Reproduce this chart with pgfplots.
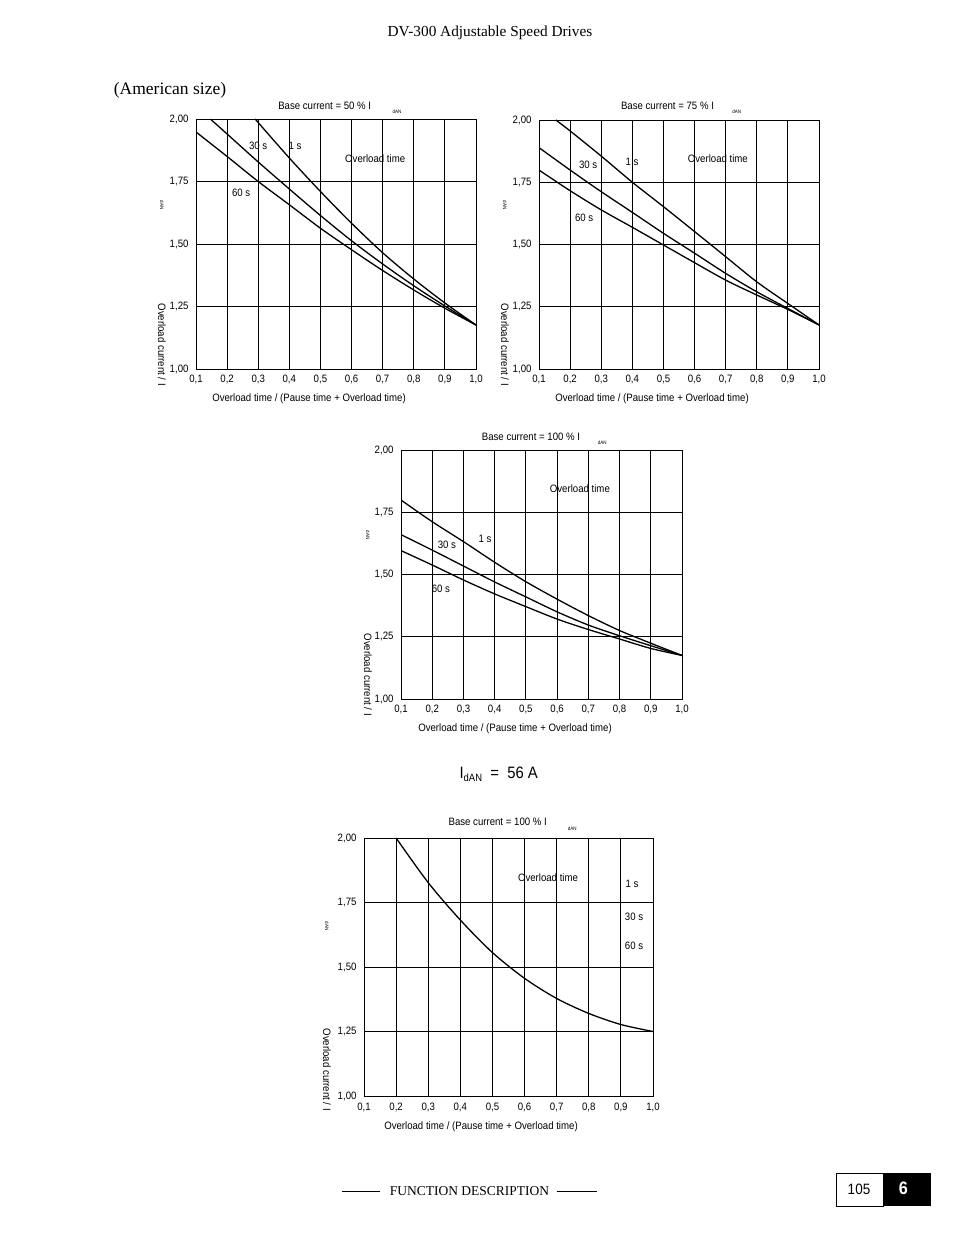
\documentclass[border=0pt]{standalone}
\usepackage{fontspec}
\setmainfont{Liberation Serif}
\newfontfamily\arial[FakeStretch=0.9]{Liberation Sans}
\usepackage{pgfplots}
\pgfplotsset{compat=1.18}
\newcommand\cf{\arial\fontsize{10.7}{12}\selectfont}
\newcommand\tf{\arial\fontsize{5}{6}\selectfont}
\pgfplotsset{
 cv/.style={black, line width=1.3pt, smooth, mark=none},
 dvchart/.style={
  scale only axis, xmin=0.1, xmax=1, ymin=1, ymax=2,
  xtick={0.1,0.2,0.3,0.4,0.5,0.6,0.7,0.8,0.9,1.0},
  xticklabels={{0,1},{0,2},{0,3},{0,4},{0,5},{0,6},{0,7},{0,8},{0,9},{1,0}},
  ytick={1,1.25,1.5,1.75,2},
  yticklabels={{1,00},{1,25},{1,50},{1,75},{2,00}},
  grid=major, major grid style={black, line width=0.8pt},
  major tick length=0pt,
  axis line style={line width=0.8pt},
  tick label style={font=\cf},
  xticklabel style={yshift=-3pt}, yticklabel style={xshift=-4pt}
 }
}
\begin{document}
\begin{tikzpicture}
\fill[white] (0,0) rectangle (954pt,1235pt);
\path[use as bounding box] (0,0) rectangle (954pt,1235pt);

% page texts
\node[font=\fontsize{15.3}{18}\selectfont] at (490pt,1202pt) {DV-300 Adjustable Speed Drives};
\node[font=\fontsize{17.5}{20}\selectfont] at (170pt,1145pt) {(American size)};

% ---- Chart 1 ----
\begin{axis}[dvchart, at={(196pt,866pt)}, anchor=south west, width=280pt, height=250pt]
\addplot[cv] coordinates {(0.1,1.948)(0.2,1.85)(0.3,1.75)(0.4,1.657)(0.5,1.563)(0.6,1.477)(0.7,1.394)(0.8,1.316)(0.9,1.243)(1.0,1.176)};
\addplot[cv] coordinates {(0.146,2.0)(0.2,1.94)(0.3,1.828)(0.4,1.72)(0.5,1.614)(0.6,1.513)(0.7,1.42)(0.8,1.333)(0.9,1.252)(1.0,1.176)};
\addplot[cv] coordinates {(0.29,2.0)(0.4,1.844)(0.5,1.71)(0.6,1.583)(0.7,1.465)(0.8,1.36)(0.9,1.264)(1.0,1.176)};
\node[font=\cf] at (axis cs:0.30,1.892) {30 s};
\node[font=\cf] at (axis cs:0.418,1.892) {1 s};
\node[font=\cf] at (axis cs:0.245,1.704) {60 s};
\node[font=\cf] at (axis cs:0.676,1.84) {Overload time};
\end{axis}
\node[font=\cf] at (324.7pt,1129pt) {Base current = 50 \% I};
\node[font=\tf] at (397pt,1123.3pt) {dAN};
\node[font=\cf, rotate=-90, anchor=west] at (162pt,935pt) {Overload current / I};
\node[font=\tf, rotate=-90] at (162pt,1030pt) {dAN};
\node[font=\cf] at (309pt,836pt) {Overload time / (Pause time + Overload time)};

% ---- Chart 2 ----
\begin{axis}[dvchart, at={(539pt,866pt)}, anchor=south west, width=280pt, height=249pt]
\addplot[cv] coordinates {(0.1,1.799)(0.2,1.716)(0.3,1.639)(0.4,1.569)(0.5,1.498)(0.6,1.427)(0.7,1.357)(0.8,1.297)(0.9,1.239)(1.0,1.177)};
\addplot[cv] coordinates {(0.1,1.889)(0.2,1.799)(0.3,1.712)(0.4,1.629)(0.5,1.545)(0.6,1.465)(0.7,1.384)(0.8,1.31)(0.9,1.243)(1.0,1.177)};
\addplot[cv] coordinates {(0.154,2.0)(0.2,1.956)(0.3,1.855)(0.4,1.75)(0.5,1.652)(0.6,1.552)(0.7,1.451)(0.8,1.35)(0.9,1.263)(1.0,1.177)};
\node[font=\cf] at (axis cs:0.258,1.819) {30 s};
\node[font=\cf] at (axis cs:0.399,1.831) {1 s};
\node[font=\cf] at (axis cs:0.245,1.606) {60 s};
\node[font=\cf] at (axis cs:0.675,1.843) {Overload time};
\end{axis}
\node[font=\cf] at (667.5pt,1129pt) {Base current = 75 \% I};
\node[font=\tf] at (736.7pt,1123.3pt) {dAN};
\node[font=\cf, rotate=-90, anchor=west] at (505pt,935pt) {Overload current / I};
\node[font=\tf, rotate=-90] at (505pt,1030pt) {dAN};
\node[font=\cf] at (652pt,836pt) {Overload time / (Pause time + Overload time)};

% ---- Chart 3 ----
\begin{axis}[dvchart, at={(401pt,536pt)}, anchor=south west, width=281pt, height=249pt]
\addplot[cv] coordinates {(0.1,1.799)(0.2,1.712)(0.3,1.632)(0.4,1.549)(0.5,1.471)(0.6,1.401)(0.7,1.335)(0.8,1.275)(0.9,1.224)(1.0,1.175)};
\addplot[cv] coordinates {(0.1,1.66)(0.2,1.598)(0.3,1.534)(0.4,1.47)(0.5,1.41)(0.6,1.35)(0.7,1.297)(0.8,1.254)(0.9,1.214)(1.0,1.175)};
\addplot[cv] coordinates {(0.1,1.596)(0.2,1.538)(0.3,1.478)(0.4,1.422)(0.5,1.371)(0.6,1.321)(0.7,1.279)(0.8,1.241)(0.9,1.203)(1.0,1.175)};
\node[font=\cf] at (axis cs:0.673,1.843) {Overload time};
\node[font=\cf] at (axis cs:0.369,1.643) {1 s};
\node[font=\cf] at (axis cs:0.247,1.618) {30 s};
\node[font=\cf] at (axis cs:0.228,1.442) {60 s};
\end{axis}
\node[font=\cf] at (531pt,798.3pt) {Base current = 100 \% I};
\node[font=\tf] at (602.3pt,792.7pt) {dAN};
\node[font=\cf, rotate=-90, anchor=west] at (368pt,605pt) {Overload current / I};
\node[font=\tf, rotate=-90] at (368pt,700pt) {dAN};
\node[font=\cf] at (515pt,506pt) {Overload time / (Pause time + Overload time)};

% I_dAN = 56 A
\node[font=\arial\fontsize{16.5}{18}\selectfont, anchor=base] at (498.7pt,456pt) {I\raisebox{-3pt}{\fontsize{10.5}{10}\selectfont dAN}\ \ =\ \ 56 A};

% ---- Chart 4 ----
\begin{axis}[dvchart, at={(364pt,139pt)}, anchor=south west, width=289pt, height=258pt]
\addplot[cv] coordinates {(0.2,2.0)(0.3,1.827)(0.4,1.682)(0.5,1.556)(0.6,1.456)(0.7,1.378)(0.8,1.32)(0.9,1.277)(1.0,1.25)};
\node[font=\cf] at (axis cs:0.673,1.845) {Overload time};
\node[font=\cf] at (axis cs:0.935,1.822) {1 s};
\node[font=\cf] at (axis cs:0.941,1.694) {30 s};
\node[font=\cf] at (axis cs:0.941,1.581) {60 s};
\end{axis}
\node[font=\cf] at (497.7pt,413.3pt) {Base current = 100 \% I};
\node[font=\tf] at (572.3pt,406.7pt) {dAN};
\node[font=\cf, rotate=-90, anchor=west] at (327pt,210pt) {Overload current / I};
\node[font=\tf, rotate=-90] at (327pt,309pt) {dAN};
\node[font=\cf] at (481pt,108pt) {Overload time / (Pause time + Overload time)};

% footer
\draw[line width=0.6pt] (341.7pt,44pt) -- (380pt,44pt);
\draw[line width=0.6pt] (556.7pt,44pt) -- (596.7pt,44pt);
\node[font=\fontsize{13.5}{16}\selectfont] at (469.5pt,44pt) {FUNCTION DESCRIPTION};
\draw[line width=0.8pt] (836pt,29pt) rectangle (883.5pt,62pt);
\fill[black] (883.5pt,29pt) rectangle (931pt,62pt);
\node[font=\arial\fontsize{15}{18}\selectfont] at (859pt,46pt) {105};
\node[font=\arial\bfseries\fontsize{18}{20}\selectfont, text=white] at (903.3pt,46.5pt) {6};
\end{tikzpicture}
\end{document}
